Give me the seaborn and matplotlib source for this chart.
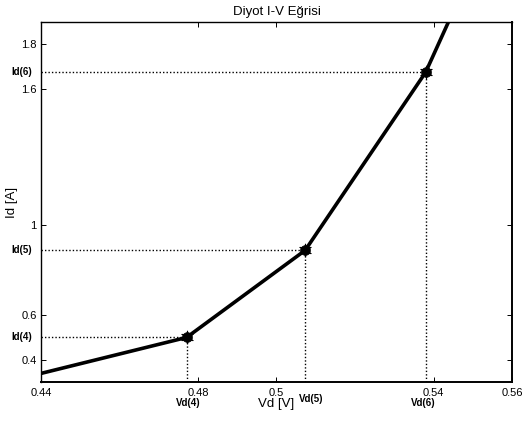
import matplotlib
matplotlib.use("Agg")
import matplotlib.pyplot as plt
import seaborn as sns
import pandas as pd

# curve points (first and last are where the curve meets the plot frame)
vd = [0.44, 0.4771, 0.5073, 0.538, 0.5438]
id_ = [0.342, 0.501, 0.886, 1.673, 1.895]

# marked operating points
mark_names = ["4", "5", "6"]
mark_vd = [0.4771, 0.5073, 0.538]
mark_id = [0.501, 0.886, 1.673]

xticks = [0.44, 0.48, 0.5, 0.54, 0.56]
xticklabels = ["0.44", "0.48", "0.5", "0.54", "0.56"]
yticks = [0.4, 0.6, 1.0, 1.6, 1.8]
yticklabels = ["0.4", "0.6", "1", "1.6", "1.8"]

title = "Diyot I-V Eğrisi"
xlabel = "Vd [V]"
ylabel = "Id [A]"

sns.set_theme(style="white")
plt.rcParams["font.family"] = ["Liberation Sans", "DejaVu Sans"]
plt.rcParams["text.color"] = "black"
plt.rcParams["axes.labelcolor"] = "black"

fig = plt.figure(figsize=(5.26, 4.21), dpi=100)
ax = fig.add_axes([0.0779, 0.0926, 0.8955, 0.8551])

xmin, xmax = 0.44, 0.56
ymin, ymax = 0.304, 1.895

# dotted guide lines
for x, y in zip(mark_vd, mark_id):
    ax.plot([xmin, x], [y, y], color="black", lw=1.0, ls=(0, (1, 1.5)), zorder=2)
    ax.plot([x, x], [ymin, y], color="black", lw=1.0, ls=(0, (1, 1.5)), zorder=2)

df = pd.DataFrame({"Vd": vd, "Id": id_})
sns.lineplot(data=df, x="Vd", y="Id", color="black", lw=2.6, sort=False,
             estimator=None, ax=ax, zorder=3)

dm = pd.DataFrame({"Vd": mark_vd, "Id": mark_id})
sns.scatterplot(data=dm, x="Vd", y="Id", color="black", s=50, marker="o",
                edgecolor="black", linewidth=0.5, ax=ax, zorder=4)
sns.scatterplot(data=dm, x="Vd", y="Id", color="black", s=80, marker=(6, 2, 0),
                edgecolor="black", linewidth=0.8, ax=ax, zorder=4)

ax.set_xlim(xmin, xmax)
ax.set_ylim(ymin, ymax)
ax.set_xticks(xticks)
ax.set_xticklabels(xticklabels)
ax.set_yticks(yticks)
ax.set_yticklabels(yticklabels)
ax.tick_params(axis="both", direction="in", length=3.5, width=0.7,
               labelsize=8, colors="black", top=True, right=True,
               bottom=True, left=True)
ax.tick_params(axis="x", pad=4)
ax.tick_params(axis="y", pad=3)

for s in ax.spines.values():
    s.set_color("black")
    s.set_linewidth(1.0)
ax.spines["bottom"].set_linewidth(1.4)
ax.spines["right"].set_linewidth(1.4)

ax.set_title(title, fontsize=9.5, pad=5, color="black")
ax.set_xlabel(xlabel, fontsize=9.5, color="black")
ax.set_ylabel(ylabel, fontsize=9.5, color="black")
ax.xaxis.set_label_coords(0.5, -0.044)
ax.yaxis.set_label_coords(-0.049, 0.5)

# point labels
vd_offsets = [1.5, 6.0, -2.0]
vd_y = [-0.057, -0.048, -0.057]
for name, x, dx, yy in zip(mark_names, mark_vd, vd_offsets, vd_y):
    ax.annotate(f"Vd({name})", xy=(x, yy), xycoords=ax.get_xaxis_transform(),
                xytext=(dx, 0), textcoords="offset pixels",
                ha="center", va="center", fontsize=7, fontweight="bold")
for name, y in zip(mark_names, mark_id):
    ax.annotate(f"Id({name})", xy=(-0.019, y), xycoords=ax.get_yaxis_transform(),
                ha="right", va="center", fontsize=7, fontweight="bold")

fig.savefig("out.png", dpi=100)
